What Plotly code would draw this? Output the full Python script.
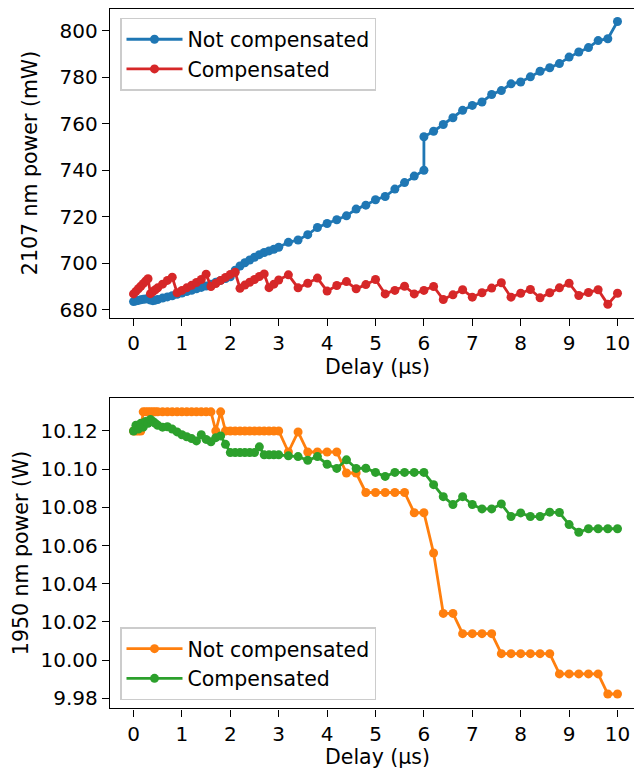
import plotly.graph_objects as go

# ---------------- data ----------------
delay_fine = [0.00, 0.05, 0.10, 0.15, 0.20, 0.25, 0.30, 0.35, 0.40, 0.45, 0.50,
              0.6, 0.7, 0.8, 0.9, 1.0, 1.1, 1.2, 1.3, 1.4, 1.5,
              1.6, 1.7, 1.8, 1.9, 2.0, 2.1, 2.2, 2.3, 2.4, 2.5,
              2.6, 2.7, 2.8, 2.9, 3.0]
delay_coarse = [3.2, 3.4, 3.6, 3.8, 4.0, 4.2, 4.4, 4.6, 4.8, 5.0,
                5.2, 5.4, 5.6, 5.8, 6.0, 6.2, 6.4, 6.6, 6.8, 7.0,
                7.2, 7.4, 7.6, 7.8, 8.0, 8.2, 8.4, 8.6, 8.8, 9.0,
                9.2, 9.4, 9.6, 9.8, 10.0]
# the uncompensated 2107 nm sweep has two readings at 6.0 us
delay_not_comp_2107 = delay_fine + delay_coarse[:15] + delay_coarse[14:]
delay_std = delay_fine + delay_coarse

p2107_not_comp = [
    683.5, 683.8, 684.0, 684.3, 684.5, 684.6, 684.8, 684.2, 683.9, 684.1, 684.4,
    685.0, 685.5, 686.0, 686.6, 687.2, 687.8, 688.4, 689.0, 689.6, 690.2,
    691.0, 691.8, 692.6, 693.4, 694.2, 697.0, 698.8, 700.2, 701.4, 702.6,
    703.7, 704.6, 705.3, 706.0, 706.9,
    709.0, 710.0, 712.3, 715.4, 717.1, 718.7, 720.4, 723.3, 725.0, 727.3,
    728.7, 731.9, 734.7, 737.5, 740.0,
    754.4, 756.8, 759.7, 762.6, 765.8, 767.9, 769.4, 772.6, 774.3, 777.2,
    778.0, 780.2, 782.6, 784.1, 785.9, 788.7, 790.9, 792.8, 795.8, 796.6,
    804.0]
p2107_comp = [
    686.8, 687.9, 689.0, 690.1, 691.2, 692.3, 693.3, 686.9, 687.8, 688.6, 689.4,
    691.0, 692.6, 694.0, 687.3, 688.3, 689.4, 690.5, 691.7, 693.0, 695.3,
    690.0, 691.3, 692.6, 693.9, 695.2, 696.1, 689.2, 690.6, 691.8, 693.0,
    694.3, 695.4, 689.5, 691.0, 692.8,
    695.0, 689.4, 691.4, 693.6, 688.0, 690.4, 692.1, 689.0, 690.8, 693.0,
    686.8, 688.3, 690.1, 686.8, 688.3, 690.0, 684.4, 686.4, 688.6, 685.4,
    687.3, 689.3, 691.6, 685.4, 687.1, 688.7, 685.1, 687.3, 689.4, 691.4,
    686.1, 687.4, 688.6, 682.3, 687.1]
p1950_not_comp = [
    10.120, 10.120, 10.120, 10.120, 10.130, 10.130, 10.130, 10.130, 10.130, 10.130, 10.130,
    10.130, 10.130, 10.130, 10.130, 10.130, 10.130, 10.130, 10.130, 10.130, 10.130,
    10.130, 10.120, 10.130, 10.120, 10.120, 10.120, 10.120, 10.120, 10.120, 10.120,
    10.120, 10.120, 10.120, 10.120, 10.120,
    10.109, 10.1195, 10.109, 10.109, 10.109, 10.109, 10.098, 10.098, 10.0878, 10.0878,
    10.0878, 10.0878, 10.0878, 10.0772, 10.0772, 10.0561, 10.0245, 10.0245, 10.0139, 10.0139,
    10.0139, 10.0139, 10.0034, 10.0034, 10.0034, 10.0034, 10.0034, 10.0034, 9.9928, 9.9928,
    9.9928, 9.9928, 9.9928, 9.9823, 9.9823]
p1950_comp = [
    10.120, 10.123, 10.121, 10.124, 10.122, 10.125, 10.124, 10.126, 10.125, 10.124, 10.123,
    10.122, 10.1222, 10.121, 10.1195, 10.118, 10.117, 10.116, 10.1148, 10.118, 10.1156,
    10.1143, 10.1165, 10.1174, 10.113, 10.1087, 10.1087, 10.1087, 10.1087, 10.1087, 10.1087,
    10.1117, 10.1075, 10.1075, 10.1075, 10.1075,
    10.107, 10.1066, 10.1047, 10.1066, 10.1026, 10.1004, 10.1049, 10.1004, 10.1005, 10.0983,
    10.0962, 10.0983, 10.0983, 10.0983, 10.0983, 10.0919, 10.0856, 10.0815, 10.0856, 10.0815,
    10.0792, 10.0792, 10.0818, 10.0752, 10.0771, 10.0752, 10.0752, 10.0775, 10.0773, 10.071,
    10.067, 10.0688, 10.0688, 10.0688, 10.0688]

x_ticks = [0, 1, 2, 3, 4, 5, 6, 7, 8, 9, 10]
y_ticks_2107 = [680, 700, 720, 740, 760, 780, 800]
y_ticks_1950 = [9.98, 10.00, 10.02, 10.04, 10.06, 10.08, 10.10, 10.12]

# ---------------- figure ----------------
W, H = 634, 774
FONT = "DejaVu Sans"
FS_TICK = 20
FS = 20.5
LW = 2.8
MS = 9

fig = go.Figure()

def add(x, y, name, color, xa, ya, legend):
    fig.add_trace(go.Scatter(
        x=x, y=y, name=name, mode="lines+markers",
        line=dict(color=color, width=LW),
        marker=dict(color=color, size=MS),
        xaxis=xa, yaxis=ya, legend=legend))

add(delay_not_comp_2107, p2107_not_comp, "Not compensated", "#1f77b4", "x", "y", "legend")
add(delay_std, p2107_comp, "Compensated", "#d62728", "x", "y", "legend")
add(delay_std, p1950_not_comp, "Not compensated", "#ff7f0e", "x2", "y2", "legend2")
add(delay_std, p1950_comp, "Compensated", "#2ca02c", "x2", "y2", "legend2")

def px_x(p):
    return p / W

def px_y(p):
    return 1 - p / H

axis_common = dict(
    showgrid=False, zeroline=False, showline=True, linecolor="black", linewidth=1.4,
    ticks="outside", ticklen=7, tickwidth=1.4, tickcolor="black",
    tickfont=dict(family=FONT, size=FS_TICK, color="black"),
)

legend_common = dict(
    xanchor="left", bgcolor="rgba(255,255,255,0.8)", bordercolor="#cccccc", borderwidth=1.5,
    font=dict(family=FONT, size=FS, color="black"), itemwidth=56, tracegroupgap=0,
)

xr = [-0.486, 10.341]
fig.update_layout(
    width=W, height=H,
    margin=dict(l=0, r=0, t=0, b=0),
    paper_bgcolor="white", plot_bgcolor="white",
    font=dict(family=FONT, size=FS, color="black"),
    xaxis=dict(domain=[px_x(110), 1.0], range=xr, tickvals=x_ticks, mirror=True,
               anchor="y", **axis_common),
    yaxis=dict(domain=[px_y(319.5), px_y(8.8)], range=[676.5, 809.5], tickvals=y_ticks_2107,
               anchor="x", **axis_common),
    xaxis2=dict(domain=[px_x(110), 1.0], range=xr, tickvals=x_ticks, mirror=True,
                anchor="y2", **axis_common),
    yaxis2=dict(domain=[px_y(712), px_y(400)], range=[9.9748, 10.1373], tickvals=y_ticks_1950,
                tickformat=".2f", anchor="x2", **axis_common),
    legend=dict(x=px_x(120), y=px_y(18), yanchor="top", **legend_common),
    legend2=dict(x=px_x(120), y=px_y(704), yanchor="bottom", **legend_common),
    showlegend=True,
)

ann = dict(xref="paper", yref="paper", showarrow=False,
           font=dict(family=FONT, size=FS, color="black"))
fig.add_annotation(text="2107 nm power (mW)", x=px_x(30), y=px_y(164), textangle=-90,
                   xanchor="center", yanchor="middle", **ann)
fig.add_annotation(text="1950 nm power (W)", x=px_x(21), y=px_y(556), textangle=-90,
                   xanchor="center", yanchor="middle", **ann)
fig.add_annotation(text="Delay (µs)", x=px_x(377), y=px_y(369),
                   xanchor="center", yanchor="middle", **ann)
fig.add_annotation(text="Delay (µs)", x=px_x(377), y=px_y(761),
                   xanchor="center", yanchor="middle", **ann)

fig.write_html("out.html")
